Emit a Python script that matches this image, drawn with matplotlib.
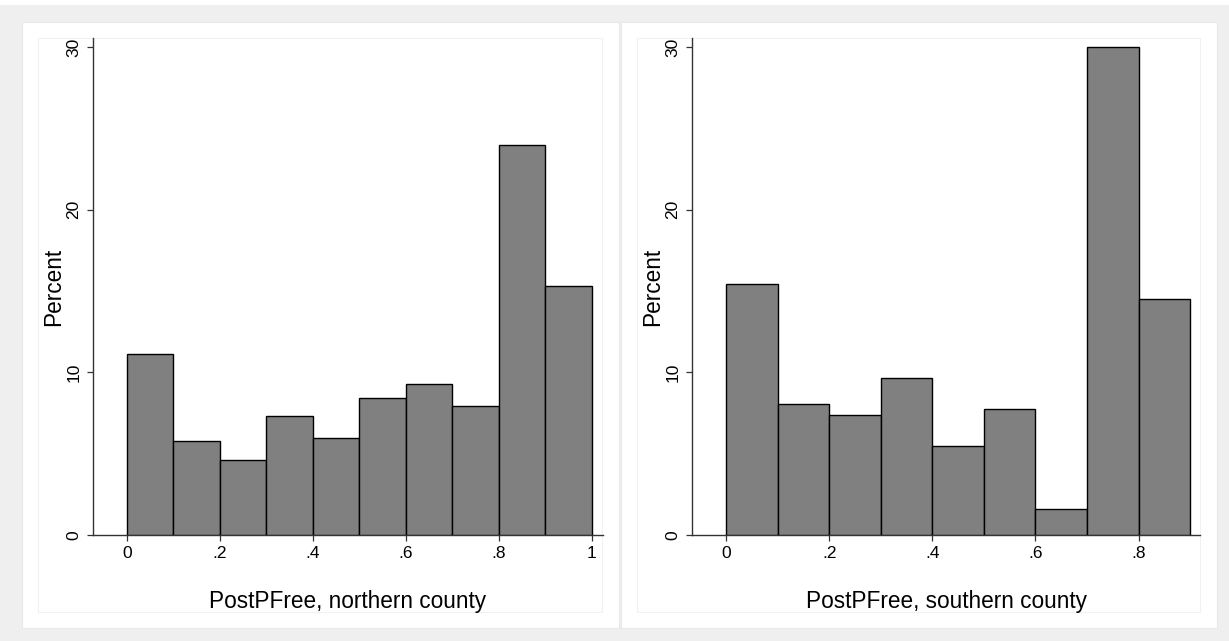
import matplotlib
matplotlib.use("Agg")
import matplotlib.pyplot as plt
from matplotlib.patches import Rectangle

plt.rcParams['font.family'] = ['Liberation Sans', 'DejaVu Sans']

# Histogram bins (width 0.1) and percentages per bin
north_edges = [0.0, 0.1, 0.2, 0.3, 0.4, 0.5, 0.6, 0.7, 0.8, 0.9]
north_pct = [11.15, 5.75, 4.63, 7.34, 5.98, 8.44, 9.26, 7.90, 24.0, 15.3]
south_edges = [0.0, 0.1, 0.2, 0.3, 0.4, 0.5, 0.6, 0.7, 0.8]
south_pct = [15.42, 8.05, 7.40, 9.68, 5.50, 7.76, 1.62, 30.0, 14.5]
bin_width = 0.1

north_xticks = [0, 0.2, 0.4, 0.6, 0.8, 1.0]
north_xlabels = ["0", ".2", ".4", ".6", ".8", "1"]
south_xticks = [0, 0.2, 0.4, 0.6, 0.8]
south_xlabels = ["0", ".2", ".4", ".6", ".8"]
yticks = [0, 10, 20, 30]

W, H = 1229, 641
fig = plt.figure(figsize=(W / 100, H / 100), dpi=100, facecolor="#efefef")


def px_rect(x0, y0, x1, y1, face, edge="none", lw=0.0, z=0):
    r = Rectangle((x0 / W, 1 - y1 / H), (x1 - x0) / W, (y1 - y0) / H,
                  transform=fig.transFigure, facecolor=face, edgecolor=edge,
                  linewidth=lw, zorder=z)
    fig.add_artist(r)


# graph panels and their plot regions
px_rect(0, 0, W, 5, "white")
px_rect(22, 22, 619, 628, "white", "#e9e9e9", 0.8)
px_rect(621, 22, 1217, 628, "white", "#e9e9e9", 0.8)
px_rect(38, 38, 602, 612, "white", "#f1f1f1", 0.8)
px_rect(637, 38, 1200, 612, "white", "#f1f1f1", 0.8)


def add_axes(x0, x1, y0=38, y1=535):
    return fig.add_axes([x0 / W, 1 - y1 / H, (x1 - x0) / W, (y1 - y0) / H])


panels = [
    (add_axes(93, 603), north_edges, north_pct, (-0.073, 1.024),
     north_xticks, north_xlabels, "PostPFree, northern county"),
    (add_axes(692, 1200), south_edges, south_pct, (-0.066, 0.919),
     south_xticks, south_xlabels, "PostPFree, southern county"),
]

for ax, edges, pct, xlim, xt, xl, title in panels:
    ax.set_facecolor("none")
    ax.bar(edges, pct, width=bin_width, align="edge", color="#808080",
           edgecolor="black", linewidth=1.0, zorder=3)
    ax.set_xlim(*xlim)
    ax.set_ylim(0, 30.55)
    for s in ("top", "right"):
        ax.spines[s].set_visible(False)
    for s in ("left", "bottom"):
        ax.spines[s].set_color("#333333")
        ax.spines[s].set_linewidth(1.0)
    ax.set_xticks(xt)
    ax.set_xticklabels(xl)
    ax.set_yticks(yticks)
    ax.set_yticklabels([str(v) for v in yticks], rotation=90, va="center")
    ax.tick_params(axis="both", direction="out", length=4.5, width=0.9,
                   color="#333333", labelsize=12.5, labelcolor="black")
    ax.tick_params(axis="x", pad=3.5)
    ax.tick_params(axis="y", pad=4)
    ax.set_xlabel(title, fontsize=16.3, labelpad=21)
    ax.set_ylabel("Percent", fontsize=16.3, labelpad=1)

fig.savefig("out.png", dpi=100, facecolor=fig.get_facecolor())
